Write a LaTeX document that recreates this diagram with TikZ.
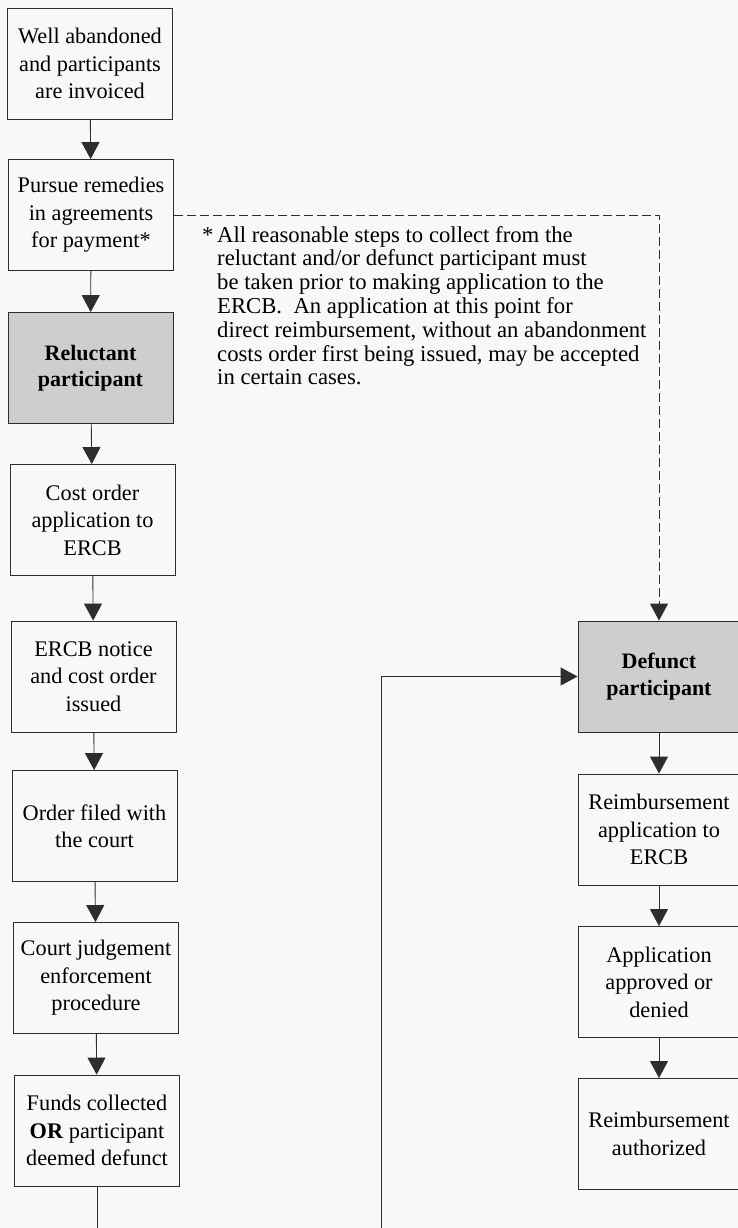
\documentclass[tikz,border=0pt]{standalone}
\usepackage{fontspec}
\setmainfont{Liberation Serif}
\usetikzlibrary{arrows.meta}
\definecolor{bg}{RGB}{248,248,247}
\definecolor{shade}{RGB}{206,206,206}
\definecolor{ink}{RGB}{45,45,45}
\begin{document}
\begin{tikzpicture}[x=1pt,y=-1pt,
  box/.style={draw=ink,line width=0.9pt,fill=bg,minimum width=165pt,minimum height=111pt,
    inner sep=0pt,align=center,font=\fontsize{22.3}{27.5}\selectfont},
  shadebox/.style={box,fill=shade,font=\fontsize{22}{26.5}\selectfont\bfseries},
  arr/.style={draw=ink,line width=0.9pt,-{Triangle[width=18pt,length=17pt]}},
  link/.style={draw=ink,line width=0.9pt},
  dashlink/.style={arr,dash pattern=on 9pt off 4pt}]
\fill[bg] (0,0) rectangle (738,1228);
\useasboundingbox (0,0) rectangle (738,1228);

% left column
\node[box] (b1) at (90,63.5) {Well abandoned\\and participants\\are invoiced};
\node[box] (b2) at (91,215) {Pursue remedies\\in agreements\\for payment*};
\node[shadebox] (b3) at (90.5,368) {Reluctant\\participant};
\node[box] (b4) at (92.5,520) {Cost order\\application to\\ERCB};
\node[box] (b5) at (93.5,676.5) {ERCB notice\\and cost order\\issued};
\node[box] (b6) at (94.5,826) {Order filed with\\the court};
\node[box] (b7) at (96,978) {Court judgement\\enforcement\\procedure};
\node[box] (b8) at (97,1130.5) {Funds collected\\\textbf{OR} participant\\deemed defunct};

% right column
\node[shadebox,minimum width=162pt] (r1) at (659,676.5) {Defunct\\participant};
\node[box,minimum width=162pt] (r2) at (659,829.5) {Reimbursement\\application to\\ERCB};
\node[box,minimum width=162pt] (r3) at (659,982) {Application\\approved or\\denied};
\node[box,minimum width=162pt] (r4) at (659,1134) {Reimbursement\\authorized};

% note
\node[anchor=north west,align=left,inner sep=0pt,
  font=\fontsize{22.7}{23.8}\selectfont] (note) at (217,226)
 {\llap{*\,}All reasonable steps to collect from the\\
  reluctant and/or defunct participant must\\
  be taken prior to making application to the\\
  ERCB.\ \ An application at this point for\\
  direct reimbursement, without an abandonment\\
  costs order first being issued, may be accepted\\
  in certain cases.};

% connectors
\draw[arr] (b1) -- (b2);
\draw[arr] (b2) -- (b3);
\draw[arr] (b3) -- (b4);
\draw[arr] (b4) -- (b5);
\draw[arr] (b5) -- (b6);
\draw[arr] (b6) -- (b7);
\draw[arr] (b7) -- (b8);
\draw[arr] (r1) -- (r2);
\draw[arr] (r2) -- (r3);
\draw[arr] (r3) -- (r4);
\draw[dashlink] (b2.east) -| (r1.north);
\coordinate (e1) at (97,1232);
\coordinate (e2) at (381,1232);
\draw[link] (b8.south) -- (e1);
\draw[arr] (e2) |- (r1.west);
\end{tikzpicture}
\end{document}
